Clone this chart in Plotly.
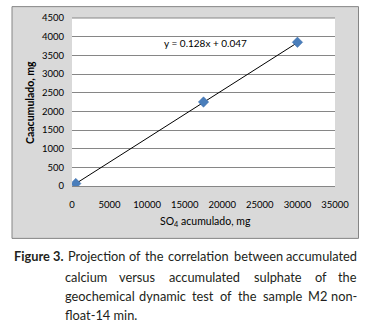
import plotly.graph_objects as go

# Data
so4_acumulado = [500, 17500, 30000]
ca_acumulado = [65, 2250, 3850]
slope = 0.128
intercept = 0.047
equation_text = "y = 0.128x + 0.047"
x_title = "SO<sub>4</sub> acumulado, mg"
y_title = "<b>Caacumulado, mg</b>"
caption_line1 = ["Figure 3.", "Projection", "of", "the", "correlation", "between", "accumulated"]
caption_line2 = ["calcium", "versus", "accumulated", "sulphate", "of", "the"]
caption_line3 = ["geochemical", "dynamic", "test", "of", "the", "sample", "M2", "non-"]
caption_line4 = "float-14 min."

# geometry (pixels)
W, H = 379, 330
L, R, T, B = 72, 335, 16, 186

def px(x):
    return (x - L) / (R - L)

def py(y):
    return (B - y) / (B - T)

FONT = "Lato"
CAP_SIZE = 12.8
CAP_COLOR = "#231f20"
fig = go.Figure()

fig.add_trace(go.Scatter(
    x=[min(so4_acumulado), max(so4_acumulado)],
    y=[slope * min(so4_acumulado) + intercept, slope * max(so4_acumulado) + intercept],
    mode="lines", line=dict(color="#000000", width=1), hoverinfo="skip", showlegend=False))
fig.add_trace(go.Scatter(
    x=so4_acumulado, y=ca_acumulado, mode="markers",
    marker=dict(symbol="diamond", size=8, color="#4a7ebb", line=dict(color="#3a6aa8", width=0.5)),
    showlegend=False))

shapes = [
    dict(type="rect", xref="paper", yref="paper", layer="below",
         x0=px(12), x1=px(358.5), y0=py(239), y1=py(4.5),
         fillcolor="#d9d9d9", line=dict(color="#858585", width=1)),
    dict(type="rect", xref="paper", yref="paper", layer="below",
         x0=0, x1=1, y0=0, y1=1, fillcolor="#ffffff", line=dict(width=0)),
]

annotations = [
    dict(text=equation_text, x=px(205), y=py(41), xref="paper", yref="paper",
         showarrow=False, xanchor="center", yanchor="middle",
         font=dict(family=FONT, size=10, color="#000000")),
    dict(text=x_title, x=px(205), y=py(222), xref="paper", yref="paper",
         showarrow=False, xanchor="center", yanchor="middle",
         font=dict(family=FONT, size=10.5, color="#000000")),
    dict(text=y_title, x=px(30), y=py(102), xref="paper", yref="paper",
         showarrow=False, xanchor="center", yanchor="middle", textangle=-90,
         font=dict(family=FONT, size=10.5, color="#000000")),
]

def cap(text, x, y, anchor="left"):
    return dict(text=text, x=px(x), y=py(y), xref="paper", yref="paper",
                showarrow=False, xanchor=anchor, yanchor="middle",
                font=dict(family=FONT, size=CAP_SIZE, color=CAP_COLOR))

# approximate glyph widths (em) for layout of justified text
EM = {'a': .51, 'b': .56, 'c': .46, 'd': .56, 'e': .53, 'f': .33, 'g': .50, 'h': .56,
      'i': .24, 'j': .24, 'k': .50, 'l': .24, 'm': .84, 'n': .56, 'o': .56, 'p': .56,
      'q': .56, 'r': .37, 's': .42, 't': .35, 'u': .56, 'v': .50, 'w': .76, 'x': .50,
      'y': .50, 'z': .45, 'M': .80, 'F': .50, '2': .58, '3': .58, '-': .35, '.': .24, ' ': .25}

def est_width(w, bold=False):
    return sum(EM.get(ch, .55) for ch in w) * CAP_SIZE * (1.06 if bold else 1.0)

def justify(words, y, left=63, right=359, bold_first=False):
    widths = [est_width(w, bold_first and i == 0) for i, w in enumerate(words)]
    gap = (right - left - sum(widths)) / (len(words) - 1)
    x = left
    out = []
    for i, (w, wd) in enumerate(zip(words, widths)):
        txt = "<b>%s</b>" % w if (bold_first and i == 0) else w
        if i == 0:
            out.append(cap(txt, left, y, "left"))
        elif i == len(words) - 1:
            out.append(cap(txt, right, y, "right"))
        else:
            out.append(cap(txt, x + wd / 2, y, "center"))
        x += wd + gap
    return out

annotations += justify(caption_line1, 257, left=12, bold_first=True)
annotations += justify(caption_line2, 278)
annotations += justify(caption_line3, 297)
annotations.append(cap(caption_line4, 63, 317))

fig.update_layout(
    width=W, height=H,
    margin=dict(l=L, r=W - R, t=T, b=H - B),
    paper_bgcolor="#ffffff", plot_bgcolor="rgba(0,0,0,0)",
    shapes=shapes, annotations=annotations,
    xaxis=dict(range=[0, 35000], dtick=5000, tick0=0, tickformat="d",
               showgrid=False, zeroline=False,
               showline=True, linecolor="#868686", linewidth=1, mirror=False,
               ticks="", ticklabelstandoff=10,
               tickfont=dict(family=FONT, size=9.5, color="#000000")),
    yaxis=dict(range=[0, 4500], dtick=500, tick0=0, tickformat="d",
               showgrid=True, gridcolor="#868686",
               gridwidth=1, zeroline=False, showline=False, ticks="", ticklabelstandoff=7,
               tickfont=dict(family=FONT, size=9.5, color="#000000")),
)
fig.add_shape(type="line", xref="paper", yref="paper", x0=0, x1=1, y0=1, y1=1,
              line=dict(color="#868686", width=1))

fig.write_html("out.html")
